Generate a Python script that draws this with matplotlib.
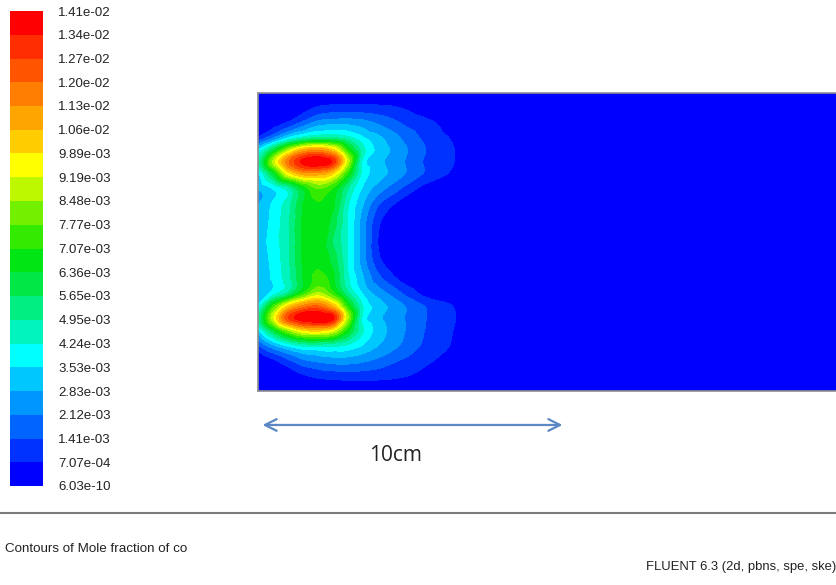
import matplotlib.pyplot as plt
import matplotlib.tri as mtri
import numpy as np
from matplotlib.cm import ScalarMappable
from matplotlib.colors import BoundaryNorm, ListedColormap
from matplotlib.lines import Line2D

plt.rcParams["font.family"] = ["Liberation Sans", "DejaVu Sans"]

# Data
level_labels = [
    "6.03e-10", "7.07e-04", "1.41e-03", "2.12e-03", "2.83e-03", "3.53e-03",
    "4.24e-03", "4.95e-03", "5.65e-03", "6.36e-03", "7.07e-03", "7.77e-03",
    "8.48e-03", "9.19e-03", "9.89e-03", "1.06e-02", "1.13e-02", "1.20e-02",
    "1.27e-02", "1.34e-02", "1.41e-02",
]
levels = [float(s) for s in level_labels]

# FLUENT-like band colours, bottom (blue) to top (red)
band_colors = [
    (0, 0, 255), (0, 50, 255), (0, 100, 255), (0, 150, 255), (0, 200, 255),
    (0, 255, 255), (0, 245, 190), (0, 238, 130), (0, 232, 70), (0, 230, 20),
    (50, 235, 0), (115, 240, 0), (190, 248, 0), (255, 255, 0), (255, 205, 0),
    (255, 165, 0), (255, 125, 0), (255, 85, 0), (255, 45, 0), (255, 0, 0),
]

# sample positions (cm) of the mole fraction readings
x_cm = [0, 0.5, 1.0, 1.5, 2.0, 2.5, 3.0, 3.5, 4.0, 4.5, 5.0, 5.5, 6.0, 6.5, 7.0, 8.0, 19.4]
y_cm = [0, 0.5, 1.0, 1.5, 2.0, 2.45, 2.85, 3.3, 3.9, 4.5, 5.0,
        5.6, 6.2, 6.8, 7.3, 7.7, 8.1, 8.5, 9.0, 9.5, 10.0]

# mole fraction of CO, units of 1e-3, one row per y_cm
co_rows = [
    [0, 0, 0, 0, 0, 0, 0, 0, 0, 0, 0, 0, 0, 0, 0, 0, 0],
    [0, 0, 0.2, 0.6, 0.85, 0.95, 1.0, 1.0, 0.95, 0.85, 0.7, 0.45, 0.15, 0, 0, 0, 0],
    [0, 0.5, 1.2, 1.9, 2.2, 2.4, 2.4, 2.2, 1.9, 1.5, 1.2, 0.9, 0.6, 0.25, 0, 0, 0],
    [1.2, 2.5, 3.5, 4.2, 4.3, 4.3, 4.0, 3.4, 2.8, 2.3, 1.8, 1.3, 0.95, 0.6, 0.1, 0, 0],
    [3.2, 5.8, 8.0, 9.5, 9.8, 9.0, 6.5, 4.3, 3.2, 2.6, 2.0, 1.45, 1.05, 0.7, 0.15, 0, 0],
    [4.8, 9.0, 12.6, 14.0, 14.2, 13.6, 8.5, 4.0, 3.0, 2.5, 2.0, 1.5, 1.1, 0.8, 0.2, 0, 0],
    [3.6, 7.2, 10.0, 11.5, 12.0, 10.5, 7.0, 4.2, 3.2, 2.6, 2.0, 1.45, 1.05, 0.7, 0.15, 0, 0],
    [2.8, 3.8, 5.0, 7.0, 8.5, 7.2, 5.0, 3.4, 2.5, 1.8, 1.1, 0.5, 0.1, 0, 0, 0, 0],
    [2.8, 3.7, 4.7, 6.4, 7.2, 6.5, 4.3, 2.8, 1.5, 0.7, 0.1, 0, 0, 0, 0, 0, 0],
    [2.9, 3.8, 4.8, 6.5, 7.0, 6.0, 4.2, 2.4, 0.85, 0.1, 0, 0, 0, 0, 0, 0, 0],
    [3.0, 3.9, 4.8, 6.5, 7.0, 5.6, 4.2, 2.4, 0.7, 0.05, 0, 0, 0, 0, 0, 0, 0],
    [2.9, 3.8, 4.8, 6.5, 7.0, 6.0, 4.2, 2.4, 0.85, 0.1, 0, 0, 0, 0, 0, 0, 0],
    [2.8, 3.7, 4.7, 6.4, 7.0, 6.5, 4.3, 2.8, 1.4, 0.65, 0.1, 0, 0, 0, 0, 0, 0],
    [2.8, 3.6, 4.6, 6.5, 7.8, 7.0, 5.0, 3.4, 2.5, 1.8, 1.1, 0.5, 0.1, 0, 0, 0, 0],
    [3.3, 6.2, 9.5, 11.0, 11.0, 10.0, 7.0, 4.0, 3.2, 2.6, 2.0, 1.4, 1.0, 0.55, 0.1, 0, 0],
    [4.6, 8.6, 11.8, 13.6, 14.1, 13.2, 8.8, 4.0, 3.1, 2.5, 2.0, 1.4, 1.1, 0.75, 0.2, 0, 0],
    [3.4, 5.8, 8.5, 10.5, 11.0, 10.0, 7.0, 4.5, 3.3, 2.7, 2.1, 1.5, 1.1, 0.75, 0.2, 0, 0],
    [0.8, 2.0, 3.5, 4.5, 5.0, 5.0, 4.5, 3.6, 3.0, 2.4, 1.8, 1.3, 0.95, 0.6, 0.1, 0, 0],
    [0, 0.3, 0.8, 1.6, 2.4, 2.6, 2.6, 2.4, 2.0, 1.6, 1.2, 0.95, 0.65, 0.2, 0, 0, 0],
    [0, 0, 0, 0.4, 0.8, 0.95, 0.95, 0.95, 0.9, 0.8, 0.6, 0.35, 0.1, 0, 0, 0, 0],
    [0, 0, 0, 0, 0, 0, 0, 0, 0, 0, 0, 0, 0, 0, 0, 0, 0],
]
scale_bar_cm = 10

# Colours
cmap_bar = ListedColormap(np.array(band_colors) / 255.0)
cmap_field = cmap_bar.with_extremes(under=cmap_bar(0), over=cmap_bar(19))
norm = BoundaryNorm(levels, len(band_colors))

fig = plt.figure(figsize=(8.37, 5.85), dpi=100, facecolor="white")
W, H = 837.0, 585.0

# Contour domain
ax = fig.add_axes([258 / W, (H - 391) / H, (W - 258) / W, 298 / H])
X, Y = np.meshgrid(x_cm, y_cm)
Z = np.array(co_rows) * 1e-3

ny, nx = Z.shape
triangles = []
for j in range(ny - 1):
    for i in range(nx - 1):
        a = j * nx + i
        triangles.append([a, a + 1, a + nx + 1])
        triangles.append([a, a + nx + 1, a + nx])
tri = mtri.Triangulation(X.ravel(), Y.ravel(), triangles)
interp = mtri.CubicTriInterpolator(tri, Z.ravel(), kind="geom")
tri_f, z_f = mtri.UniformTriRefiner(tri).refine_field(Z.ravel(), triinterpolator=interp, subdiv=4)
ax.tricontourf(tri_f, z_f, levels=levels, cmap=cmap_field, norm=norm, extend="both")

ax.set_xlim(0, 19.3)
ax.set_ylim(0, 10)
ax.set_xticks([])
ax.set_yticks([])
ax.set_facecolor((0, 0, 1))
for side in ["top", "bottom", "left"]:
    ax.spines[side].set_color("#8f8f8f")
    ax.spines[side].set_linewidth(1.2)
ax.spines["right"].set_visible(False)

# 10 cm scale bar
bar_y = -1.14
ax.annotate(
    "",
    xy=(0.15 + scale_bar_cm, bar_y),
    xytext=(0.15, bar_y),
    arrowprops=dict(
        arrowstyle="<->,head_length=0.6,head_width=0.3",
        color="#5b87c5",
        lw=1.6,
        mutation_scale=14,
        shrinkA=0,
        shrinkB=0,
    ),
    annotation_clip=False,
)
ax.text(4.57, -2.15, f"{scale_bar_cm}cm", fontsize=15, family="Open Sans",
        ha="center", va="center", color="#222222", clip_on=False)

# Colour legend
cax = fig.add_axes([10 / W, (H - 486) / H, 33 / W, 475 / H])
cb = fig.colorbar(ScalarMappable(norm=norm, cmap=cmap_bar), cax=cax, ticks=levels)
cb.outline.set_visible(False)
cb.ax.set_yticklabels(level_labels)
cax.tick_params(length=0, pad=11, labelsize=9.5, labelcolor="#222222")

# Footer
fig.add_artist(Line2D([0, 1], [(H - 513) / H] * 2, transform=fig.transFigure,
                      color="#7a7a7a", lw=1.5))
fig.text(5 / W, (H - 549) / H, "Contours of Mole fraction of co", fontsize=9.6,
         ha="left", va="center", color="#222222")
fig.text(836 / W, (H - 567) / H, "FLUENT 6.3 (2d, pbns, spe, ske)", fontsize=9.4,
         ha="right", va="center", color="#222222")

fig.savefig("out.png", dpi=100)
